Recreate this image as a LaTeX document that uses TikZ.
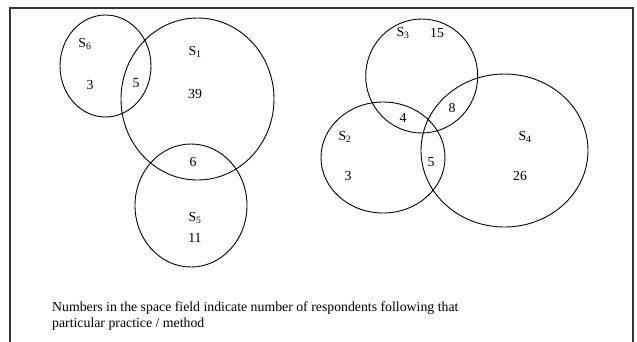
\documentclass[tikz,border=0pt]{standalone}
\usepackage{fontspec}
\setmainfont{Liberation Serif}
\usepackage{tikz}
\usetikzlibrary{shapes.geometric}

\begin{document}
\begin{tikzpicture}[
    x=1pt, y=-1pt,
    set/.style={ellipse, draw, line width=0.9pt, inner sep=0pt},
    lbl/.style={font=\fontsize{13.8}{16}\selectfont, inner sep=0pt},
    frame/.style={line width=1.3pt, black!80}
]
\useasboundingbox (0,0) rectangle (637,341);
\draw[frame] (10,342) -- (10,8) -- (633,8) -- (633,342);
% left group
\node[set, minimum width=91pt, minimum height=102pt] (s6) at (105.5,66) {};
\node[set, minimum width=153pt, minimum height=162pt] (s1) at (197.5,99) {};
\node[set, minimum width=112pt, minimum height=123pt] (s5) at (191,205.5) {};
\node[lbl] (s6name) at (85,44) {S\textsubscript{6}};
\node[lbl] (s6only) at (90,85) {3};
\node[lbl] (s16) at (136,83) {5};
\node[lbl] (s1name) at (195,52) {S\textsubscript{1}};
\node[lbl] (s1only) at (195,94) {39};
\node[lbl] (s15) at (193,162) {6};
\node[lbl] (s5name) at (195,218) {S\textsubscript{5}};
\node[lbl] (s5only) at (195,238) {11};
% right group
\node[set, minimum width=112pt, minimum height=114pt] (s3) at (421.7,76) {};
\node[set, minimum width=124pt, minimum height=111pt] (s2) at (383,157.5) {};
\node[set, minimum width=167pt, minimum height=153pt] (s4) at (504.5,150.5) {};
\node[lbl] (s3name) at (403,33) {S\textsubscript{3}};
\node[lbl] (s3only) at (437,33) {15};
\node[lbl] (s34) at (452,108) {8};
\node[lbl] (s23) at (403,118) {4};
\node[lbl] (s2name) at (345,137) {S\textsubscript{2}};
\node[lbl] (s2only) at (348,176) {3};
\node[lbl] (s24) at (431,162) {5};
\node[lbl] (s4name) at (525,137) {S\textsubscript{4}};
\node[lbl] (s4only) at (520,176) {26};
% caption
\node[lbl, anchor=north west, align=left] (note) at (52,302) {Numbers in the space field indicate number of respondents following that\\particular practice / method};
\end{tikzpicture}
\end{document}
